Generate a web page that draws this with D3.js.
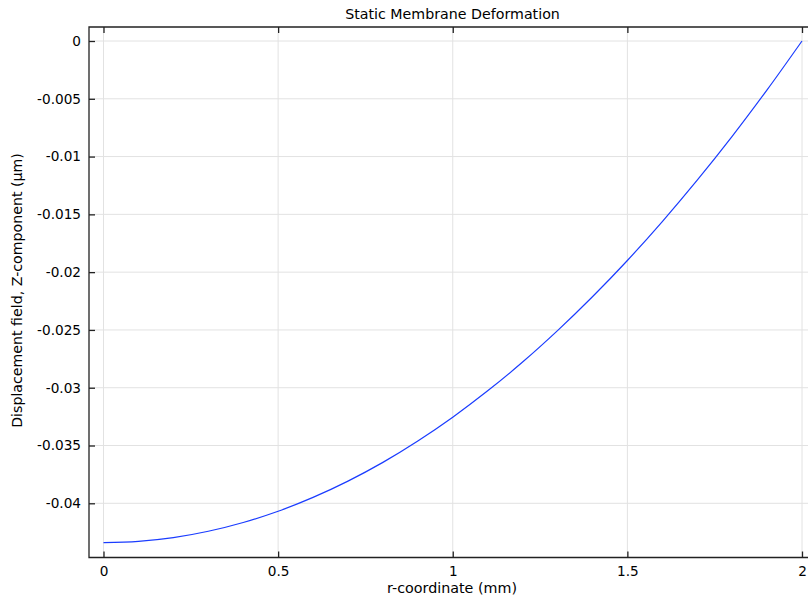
<!DOCTYPE html>
<html><head><meta charset="utf-8">
<script src="https://cdn.jsdelivr.net/npm/d3@7"></script>
<style>body{margin:0;background:#fff}svg{display:block}text{font-family:"DejaVu Sans",sans-serif;fill:#000}</style>
</head><body>
<svg id="c" width="808" height="597"></svg>
<script>
const rValues = [0,0.1,0.2,0.3,0.4,0.5,0.6,0.7,0.8,0.9,1.0,1.1,1.2,1.3,1.4,1.5,1.6,1.7,1.8,1.9,2.0];
const wValues = [-0.0434,-0.04329,-0.04297,-0.04242,-0.04166,-0.04069,-0.03949,-0.03808,-0.03646,-0.03461,-0.03255,-0.03027,-0.02778,-0.02506,-0.02213,-0.01899,-0.01562,-0.01204,-0.00825,-0.00423,0];
const xTicks = [0,0.5,1,1.5,2];
const xTickLabels = ["0","0.5","1","1.5","2"];
const yTicks = [0,-0.005,-0.01,-0.015,-0.02,-0.025,-0.03,-0.035,-0.04];
const yTickLabels = ["0","-0.005","-0.01","-0.015","-0.02","-0.025","-0.03","-0.035","-0.04"];
const title = "Static Membrane Deformation";
const xLabel = "r-coordinate (mm)";
const yLabel = "Displacement field, Z-component (µm)";

const svg = d3.select("#c");
const L=89, T=27, R=808, B=557.5;
const x = d3.scaleLinear().domain([0,2]).range([103.5,802]);
const y = d3.scaleLinear().domain([0,-0.04]).range([41,503.3]);

const g = svg.append("g");
g.selectAll(".gx").data(xTicks).enter().append("line")
 .attr("x1",d=>x(d)).attr("x2",d=>x(d)).attr("y1",T).attr("y2",B)
 .attr("stroke","#e2e2e2").attr("stroke-width",1);
g.selectAll(".gy").data(yTicks).enter().append("line")
 .attr("x1",L).attr("x2",R).attr("y1",d=>y(d)).attr("y2",d=>y(d))
 .attr("stroke","#e2e2e2").attr("stroke-width",1);

const pts = rValues.map((r,i)=>[r,wValues[i]]);
g.append("path").datum(pts)
 .attr("d", d3.line().x(d=>x(d[0])).y(d=>y(d[1])).curve(d3.curveCatmullRom))
 .attr("fill","none").attr("stroke","#1a3cff").attr("stroke-width",1.2);

g.append("path").attr("d",`M${R},${T}H${L}V${B}H${R}`).attr("fill","none").attr("stroke","#222").attr("stroke-width",1.3);

function fit(sel, target){
  sel.style("font-size","13px");
  const w = sel.node().getComputedTextLength();
  sel.style("font-size",(13*target/w)+"px");
}

const xAxis = d3.axisBottom(x).tickValues(xTicks).tickFormat((d,i)=>xTickLabels[i]).tickSize(-6).tickPadding(9);
const xa = svg.append("g").attr("transform",`translate(0,${B})`).call(xAxis);
const xAxisTop = d3.axisTop(x).tickValues(xTicks).tickFormat("").tickSize(-6);
const xt = svg.append("g").attr("transform",`translate(0,${T})`).call(xAxisTop);
const yAxis = d3.axisLeft(y).tickValues(yTicks).tickFormat((d,i)=>yTickLabels[i]).tickSize(-6).tickPadding(8);
const ya = svg.append("g").attr("transform",`translate(${L},0)`).call(yAxis);
[xa,xt,ya].forEach(a=>{
  a.select(".domain").remove();
  a.selectAll(".tick line").attr("stroke","#222").attr("stroke-width",1.3);
  a.selectAll("text").style("font-family","DejaVu Sans").attr("fill","#000");
});
// tick label size from "-0.005" width of ~44px
const probe = svg.append("text").text("-0.005");
fit(probe, 44);
const tickSize = probe.style("font-size");
probe.remove();
svg.selectAll(".tick text").style("font-size", tickSize);

const t1 = svg.append("text").attr("x",452.5).attr("y",19).attr("text-anchor","middle").text(title);
fit(t1, 215);
const t2 = svg.append("text").attr("x",452).attr("y",593).attr("text-anchor","middle").text(xLabel);
fit(t2, 130);
const t3 = svg.append("text").attr("transform","translate(22,290.5) rotate(-90)").attr("text-anchor","middle").text(yLabel);
fit(t3, 275);
</script>
</body></html>
